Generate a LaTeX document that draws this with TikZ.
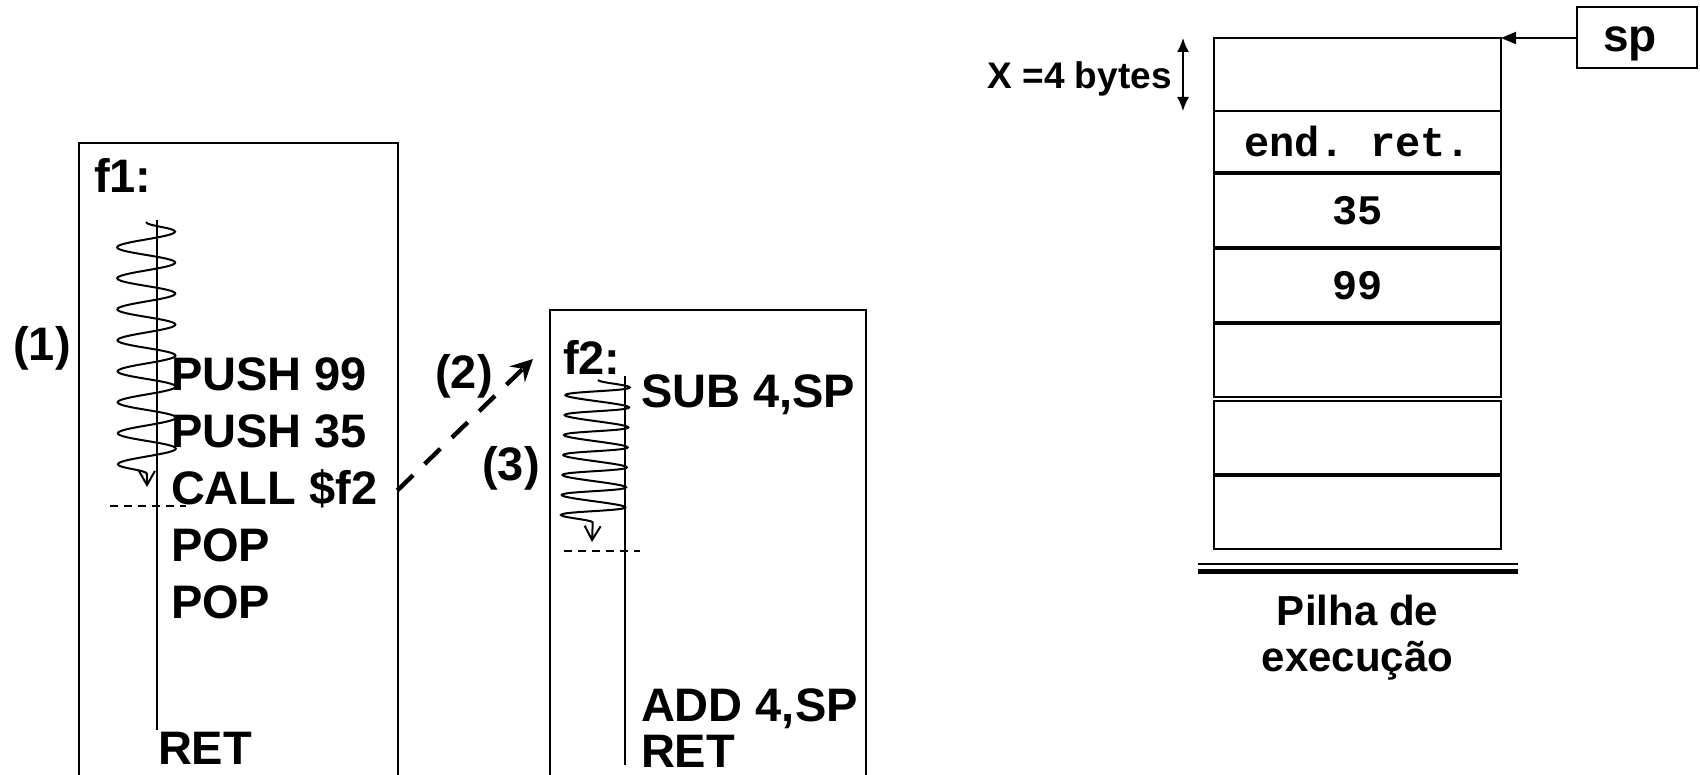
\documentclass[tikz,border=0pt]{standalone}
\usepackage{fontspec}
\setmainfont{Liberation Sans}
\setmonofont{Liberation Mono}
\usetikzlibrary{positioning, arrows.meta, decorations.pathmorphing}
\tikzset{
  code/.style={font=\bfseries\fontsize{23.5}{28}\selectfont, inner sep=0pt, outer sep=0pt, text height=21pt, text depth=7.5pt, anchor=north west},
  numlbl/.style={font=\bfseries\fontsize{23.5}{28}\selectfont, inner sep=0pt},
  frame/.style={line width=1.2pt},
  cell/.style={draw, line width=1.2pt, minimum width=143.5pt, minimum height=36.5pt, inner sep=0pt, outer sep=0pt, font=\ttfamily\bfseries\fontsize{21}{24}\selectfont},
  wave/.style={line width=1pt, decorate, decoration={snake, amplitude=14.5pt, segment length=15.5pt, post length=6pt}, -{Straight Barb[length=7pt, width=8pt]}},
  cutline/.style={line width=0.8pt, dash pattern=on 4pt off 3pt},
  callarrow/.style={line width=2.2pt, dash pattern=on 11pt off 8pt, -{Stealth[length=11pt, width=11pt, inset=4pt]}}
}
\begin{document}
\begin{tikzpicture}[x=0.5pt, y=-0.5pt, node distance=0pt]
    \useasboundingbox (0,0) rectangle (1700,775);
    \clip (0,0) rectangle (1700,775);

    \draw[frame] (79,143) rectangle (398,800);
    \node[code] (f1lbl) at (94,150) {f1:};
    \node[numlbl] (n1) at (42,348) {(1)};
    \node[code] (p99) at (171,348) {PUSH 99};
    \node[code, below=0pt of p99.south west, anchor=north west] (p35) {PUSH 35};
    \node[code, below=0pt of p35.south west, anchor=north west] (call) {CALL \$f2};
    \node[code, below=0pt of call.south west, anchor=north west] (pop1) {POP};
    \node[code, below=0pt of pop1.south west, anchor=north west] (pop2) {POP};
    \node[code] (ret1) at (158,722) {RET};
    \coordinate (t1top) at (157,220);
    \coordinate (t1bot) at (157,730);
    \draw[line width=1pt] (t1top) -- (t1bot);
    \draw[wave] (146,222) -- (147,487);
    \draw[cutline] (110,506) -- (186,506);

    \draw[frame] (550,310) rectangle (866,800);
    \node[code] (f2lbl) at (563,332) {f2:};
    \node[code] (sub) at (641,365) {SUB 4,SP};
    \node[code] (add) at (641,679) {ADD 4,SP};
    \node[code] (ret2) at (641,725) {RET};
    \coordinate (t2top) at (625,376);
    \coordinate (t2bot) at (625,765);
    \draw[line width=1pt] (t2top) -- (t2bot);
    \draw[wave, decoration={segment length=10pt, amplitude=16pt}] (598,380) -- (592,542);
    \draw[cutline] (564,551) -- (640,551);
    \node[numlbl] (n2) at (464,376) {(2)};
    \node[numlbl] (n3) at (511,468) {(3)};
    \coordinate (f2in) at (533,359);
    \draw[callarrow] ([xshift=10pt]call.east) -- (f2in);

    \node[cell, anchor=north] (c1) at (1357.5,38) {};
    \node[cell, minimum height=30.5pt, below=0pt of c1] (c2) {end.\ ret.};
    \node[cell, below=1pt of c2] (c3) {35};
    \node[cell, below=1pt of c3] (c4) {99};
    \node[cell, below=1pt of c4] (c5) {};
    \node[cell, below=2pt of c5] (c6) {};
    \node[cell, below=1pt of c6] (c7) {};
    \draw[line width=1pt] ([xshift=-8pt, yshift=-7.5pt]c7.south west) -- ([xshift=8.5pt, yshift=-7.5pt]c7.south east);
    \draw[line width=2.5pt] ([xshift=-8pt, yshift=-11pt]c7.south west) -- ([xshift=8.5pt, yshift=-11pt]c7.south east);
    \node[below=23pt of c7, inner sep=0pt, align=center, font=\bfseries\fontsize{21}{23}\selectfont] (cap) {Pilha de\\execução};

    \node[draw, line width=1.2pt, minimum width=60pt, minimum height=30.5pt, inner sep=0pt, text height=18.9pt, text depth=4.8pt, font=\bfseries\fontsize{23}{27}\selectfont] (sp) at (1637,37.5) {\hspace*{-7pt}sp};
    \draw[line width=1pt, -{Triangle[length=7.5pt, width=6pt]}] (sp.west |- c1.north east) -- (c1.north east);

    \coordinate (xtop) at ([xshift=-15.5pt]c1.north west);
    \coordinate (xbot) at ([xshift=-15.5pt]c1.south west);
    \coordinate (xmid) at ([xshift=-15.5pt]c1.west);
    \draw[line width=0.8pt, {Latex[length=7pt, width=6pt]}-{Latex[length=7pt, width=6pt]}] (xtop) -- (xbot);
    \node[left=5.5pt of xmid, yshift=-2pt, inner sep=0pt, font=\bfseries\fontsize{18.5}{22}\selectfont] (xlbl) {X =4 bytes};
\end{tikzpicture}
\end{document}
